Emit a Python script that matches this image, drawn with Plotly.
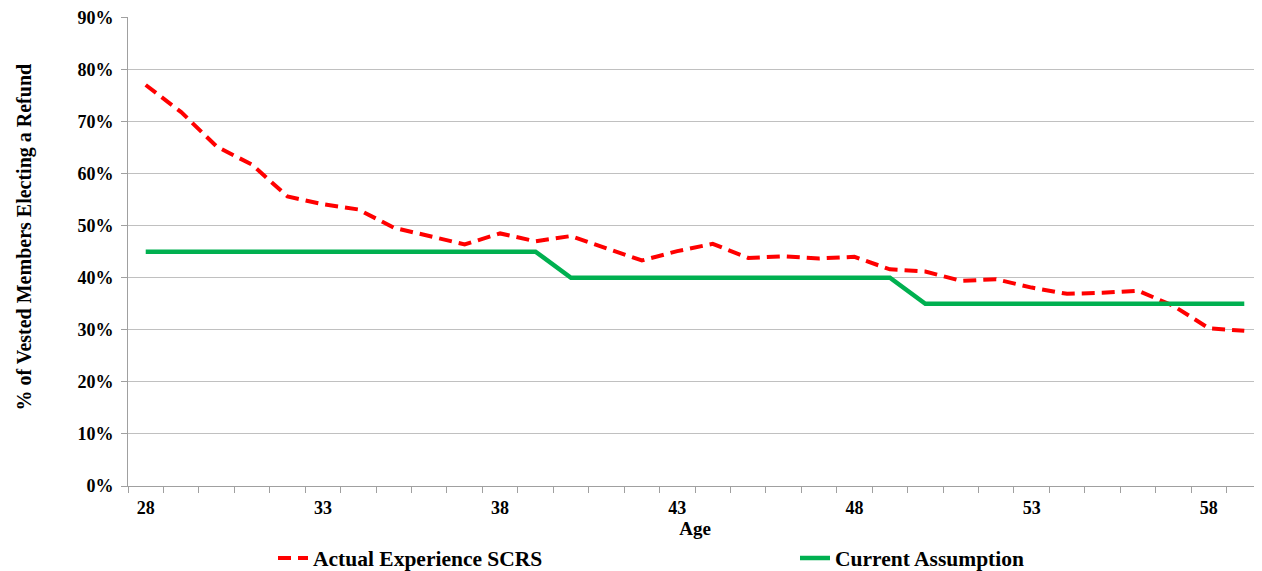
import plotly.graph_objects as go

ages = list(range(28, 60))
actual = [77.0, 71.8, 65.2, 61.7, 55.6, 54.1, 53.1, 49.6, 48.0, 46.4,
          48.5, 47.0, 48.0, 45.7, 43.3, 45.1, 46.5, 43.8, 44.1, 43.7,
          44.0, 41.6, 41.2, 39.4, 39.7, 38.1, 36.9, 37.1, 37.5, 34.6,
          30.3, 29.8]
assumption = [45]*12 + [40]*10 + [35]*10
actual = [v/100 for v in actual]
assumption = [v/100 for v in assumption]
xticks = [28, 33, 38, 43, 48, 53, 58]
yticks = [i/10 for i in range(10)]

font = "Liberation Serif"
fig = go.Figure()
fig.add_trace(go.Scatter(x=ages, y=actual, mode="lines", name="Actual Experience SCRS",
                         line=dict(color="#FF0000", width=4, dash="13px,7px"), legend="legend"))
fig.add_trace(go.Scatter(x=ages, y=assumption, mode="lines", name="Current Assumption",
                         line=dict(color="#00B050", width=4.5), legend="legend2"))

# page body has an 8px offset; figure coordinates = screen - 8
PL, PW, PB, PH = 128, 1134, 486, 469
legfont = dict(family=font, size=21.5, color="black", weight="bold")
ly = -(558 - PB) / PH
fig.update_layout(
    width=1254, height=563,
    margin=dict(l=120, r=0, t=9, b=85, autoexpand=False),
    paper_bgcolor="white", plot_bgcolor="white",
    font=dict(family=font, size=18, color="black"),
    showlegend=True,
    legend=dict(x=(273 - PL) / PW, xanchor="left", y=ly, yanchor="middle",
                font=legfont, bgcolor="rgba(0,0,0,0)"),
    legend2=dict(x=(795 - PL) / PW, xanchor="left", y=ly, yanchor="middle",
                 font=legfont, bgcolor="rgba(0,0,0,0)"),
    xaxis=dict(range=[27.5, 59.5], tickvals=xticks, ticktext=[str(t) for t in xticks],
               ticks="", showgrid=False, showline=True, linecolor="#A0A0A0", linewidth=1,
               tickfont=dict(family=font, size=18, weight="bold"), ticklabelstandoff=5,
               minor=dict(tick0=27.5, dtick=1, ticks="outside", ticklen=6, tickcolor="#A0A0A0", showgrid=False),
               title=dict(text="Age", font=dict(family=font, size=19, weight="bold"), standoff=0),
               zeroline=False),
    yaxis=dict(range=[0, 0.9006], tickvals=yticks, tickformat=".0%",
               ticks="outside", ticklen=6, tickcolor="#A0A0A0",
               showgrid=True, gridcolor="#C0C0C0", gridwidth=1,
               showline=True, linecolor="#A0A0A0", linewidth=1, zeroline=False,
               tickfont=dict(family=font, size=18, weight="bold"), ticklabelstandoff=4,
               ticklabeloverflow="allow"),
    annotations=[dict(text="% of Vested Members Electing a Refund", textangle=-90,
                      xref="paper", yref="paper", x=(24 - PL) / PW, y=(PB - 237.5) / PH,
                      xanchor="center", yanchor="middle", showarrow=False,
                      font=dict(family=font, size=20, weight="bold", color="black"))],
)
fig.write_html("out.html")
